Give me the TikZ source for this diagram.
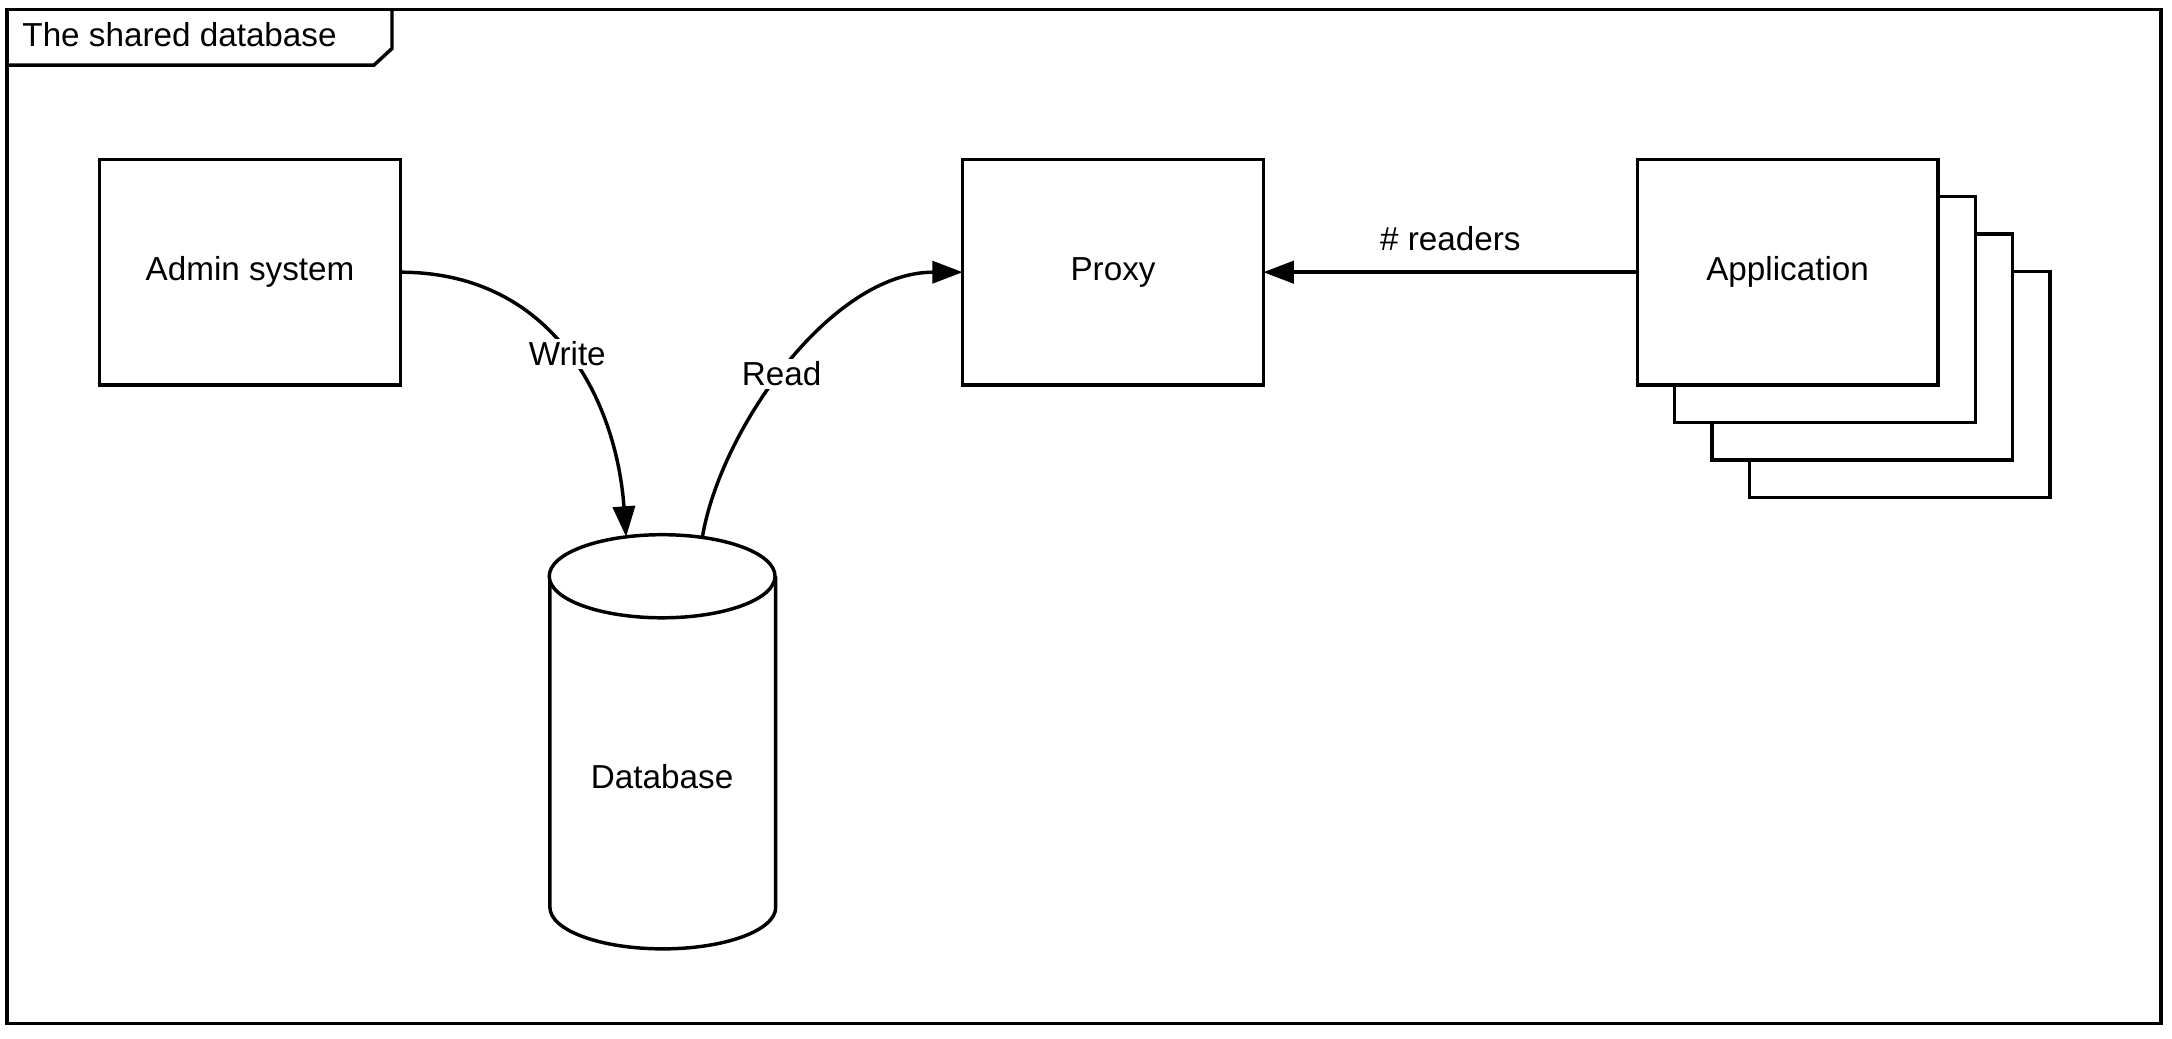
\documentclass[tikz,border=0pt]{standalone}
\usepackage{fontspec}
\setmainfont{Liberation Sans}
\usetikzlibrary{arrows.meta}
\begin{document}
\begin{tikzpicture}[x=1pt,y=-1pt,
  every node/.style={font=\fontsize{24}{28}\selectfont},
  ln/.style={line width=2.5pt, line join=miter},
  boxn/.style={ln, draw, fill=white, minimum width=217pt, minimum height=163pt, inner sep=0pt, outer sep=0pt, anchor=north west},
  arr/.style={ln, -{Triangle[length=22pt,width=16pt]}},
  lbl/.style={fill=white, inner sep=2pt}]
\useasboundingbox (0,0) rectangle (1568,749.4);
% frame
\draw[ln] (5,7) rectangle (1560,739);
\draw[ln] (5,47) -- (270,47) -- (283,35) -- (283,7);
\node[anchor=west, inner sep=0pt] (title) at (16,25) {The shared database};
% nodes
\node[boxn] (admin) at (72,115) {Admin system};
\node[boxn] (proxy) at (695,115) {Proxy};
\node[boxn] (app4) at (1263,196) {};
\node[boxn] (app3) at (1236,169) {};
\node[boxn] (app2) at (1209,142) {};
\node[boxn] (app) at (1182,115) {Application};
% database cylinder
\draw[ln, fill=white] (397,416) -- (397,655) arc[start angle=180, end angle=360, x radius=81.5, y radius=-30] -- (560,416);
\draw[ln, fill=white] (478,416) ellipse[x radius=81.5, y radius=30];
\node (db) at (478,561) {Database};
\coordinate (dbw) at (452,387.5);
\coordinate (dbr) at (507,388);
% connectors
\draw[arr] (admin.east) .. controls (400,196.5) and (445,290) .. node[lbl, pos=0.5] {Write} (dbw);
\draw[arr] (dbr) .. controls (520,310) and (600,196.5) .. node[lbl, pos=0.47] {Read} (proxy.west);
\draw[arr] (app.west) -- node[above=12pt, inner sep=2pt] {\# readers} (proxy.east);
\end{tikzpicture}
\end{document}
